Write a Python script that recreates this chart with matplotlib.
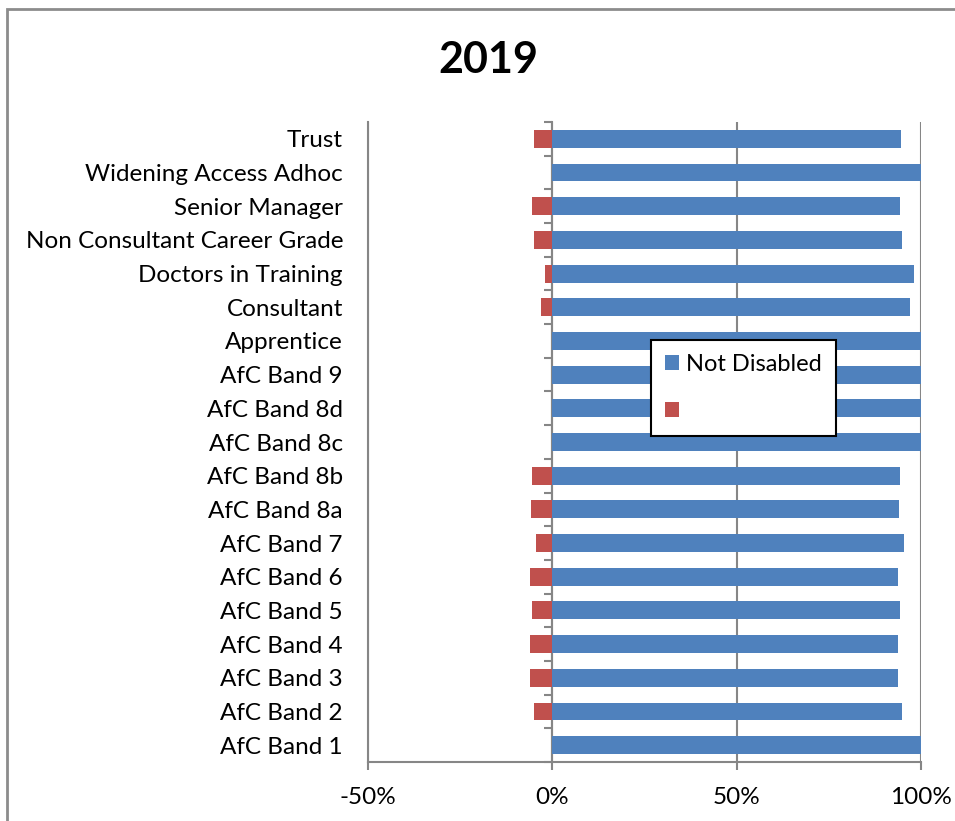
import numpy as np
import matplotlib.pyplot as plt
from matplotlib.patches import Rectangle
from matplotlib.ticker import FuncFormatter

plt.rcParams["font.family"] = ["Lato", "DejaVu Sans"]

categories = ["AfC Band 1", "AfC Band 2", "AfC Band 3", "AfC Band 4", "AfC Band 5",
              "AfC Band 6", "AfC Band 7", "AfC Band 8a", "AfC Band 8b", "AfC Band 8c",
              "AfC Band 8d", "AfC Band 9", "Apprentice", "Consultant",
              "Doctors in Training", "Non Consultant Career Grade", "Senior Manager",
              "Widening Access Adhoc", "Trust"]
not_disabled = [100, 94.9, 93.8, 93.8, 94.3, 93.8, 95.4, 94.0, 94.3, 100,
                100, 100, 100, 97.0, 98.1, 94.9, 94.3, 100, 94.6]
disabled = [0, -4.9, -6.0, -6.0, -5.4, -6.0, -4.3, -5.7, -5.4, 0,
            0, 0, 0, -3.0, -1.9, -4.9, -5.4, 0, -5.1]

blue = "#4F81BD"
red = "#C0504D"
grid_grey = "#868686"

fig = plt.figure(figsize=(9.55, 8.21), dpi=100)
ax = fig.add_axes([368 / 955, 1 - 762 / 821, (921 - 368) / 955, (762 - 122) / 821])

y = np.arange(len(categories))
ax.barh(y, not_disabled, height=0.53, color=blue, label="Not Disabled", zorder=3)
ax.barh(y, disabled, height=0.53, color=red, label=" ", zorder=3)

ax.set_xlim(-50, 100)
ax.set_ylim(-0.5, len(categories) - 0.5)
ax.set_xticks([-50, 0, 50, 100])
ax.xaxis.set_major_formatter(FuncFormatter(lambda v, p: f"{v:.0f}%"))
ax.set_yticks(y)
ax.set_yticklabels(categories)
ax.tick_params(axis="y", length=0, pad=18, labelsize=17.5)
ax.tick_params(axis="x", length=6, width=1.5, color=grid_grey, pad=12, labelsize=17.5)
ax.grid(axis="x", color=grid_grey, linewidth=1.5, zorder=1)
for s in ["top", "right"]:
    ax.spines[s].set_visible(False)
for s in ["left", "bottom"]:
    ax.spines[s].set_color(grid_grey)
    ax.spines[s].set_linewidth(1.5)

# zero axis with category boundary ticks
sec = ax.secondary_yaxis(50 / 150)
sec.set_yticks(np.arange(-0.5, len(categories), 1.0))
sec.set_yticklabels([])
sec.tick_params(length=6, width=1.5, color=grid_grey)
sec.spines["left"].set_color(grid_grey)
sec.spines["left"].set_linewidth(1.5)

fig.suptitle("2019", fontsize=31, fontweight="bold", x=488 / 955, y=1 - 40 / 821)

leg = fig.legend(loc="upper left", bbox_to_anchor=(651 / 955, 1 - 340 / 821),
                 fontsize=17, handlelength=0.6, handleheight=0.6, handletextpad=0.3,
                 labelspacing=1.1, borderpad=0.6, fancybox=False, framealpha=1,
                 edgecolor="black", borderaxespad=0)
leg.get_frame().set_linewidth(1.5)

fig.patches.append(Rectangle((6.5 / 955, -0.1), 1.2, 1 - 9.5 / 821 + 0.1,
                             transform=fig.transFigure, fill=False,
                             edgecolor="#8c8c8c", linewidth=2))

fig.savefig("out.png", dpi=100)
